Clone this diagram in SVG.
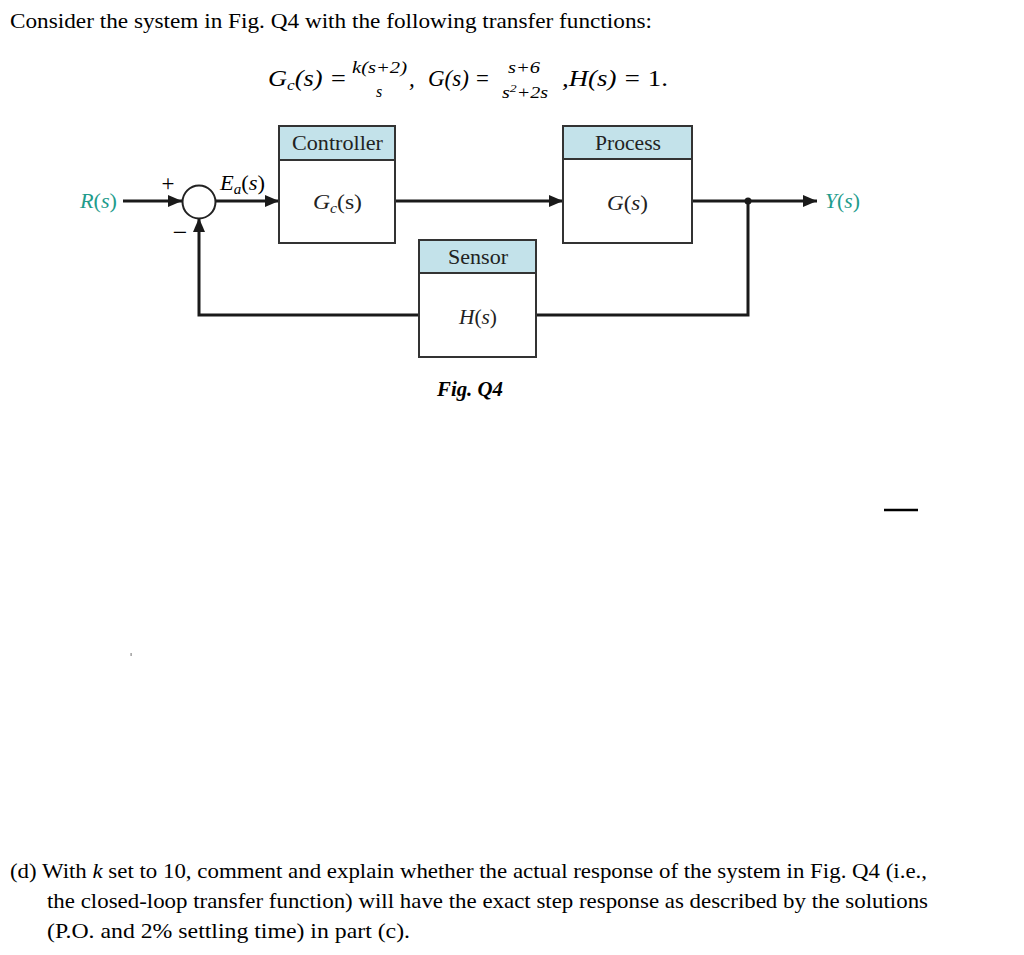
<svg xmlns="http://www.w3.org/2000/svg" width="1024" height="955" viewBox="0 0 1024 955">
<defs>
<style>
.t{font-family:"Liberation Serif","Times New Roman",serif;fill:#000}
.m{font-family:"Liberation Serif","Times New Roman",serif;font-style:italic;fill:#000}
.blk{font-family:"Liberation Serif","Times New Roman",serif;font-size:21px;fill:#222}
.box{fill:#fff;stroke:#333;stroke-width:2}
.hdr{fill:#c3e2ea;stroke:#333;stroke-width:2}
.ln{fill:none;stroke:#1a1a1a;stroke-width:3}
.teal{font-family:"Liberation Serif","Times New Roman",serif;font-size:21px;fill:#1f9c8c}
</style>
<marker id="ah" markerUnits="userSpaceOnUse" markerWidth="14" markerHeight="12" refX="14" refY="6" orient="auto">
<path d="M0,0 L14,6 L0,12 Z" fill="#1a1a1a"/>
</marker>
</defs>
<rect width="1024" height="955" fill="#fff"/>

<text class="t" x="10" y="28" font-size="22" textLength="642" lengthAdjust="spacingAndGlyphs">Consider the system in Fig. Q4 with the following transfer functions:</text>

<g id="equations">
<text class="m" x="268" y="86" font-size="23" textLength="79" lengthAdjust="spacingAndGlyphs">G<tspan font-size="15" dy="4">c</tspan><tspan dy="-4">(s) =</tspan></text>
<text class="m" x="352" y="73" font-size="16" textLength="55" lengthAdjust="spacingAndGlyphs">k(s+2)</text>
<text class="m" x="379" y="97" font-size="16" text-anchor="middle">s</text>
<text class="m" x="409" y="86" font-size="23">,</text>
<text class="m" x="428" y="86" font-size="23" textLength="62" lengthAdjust="spacingAndGlyphs">G(s) =</text>
<text class="m" x="508" y="73" font-size="16" textLength="32" lengthAdjust="spacingAndGlyphs">s+6</text>
<text class="m" x="502" y="98" font-size="16" textLength="46" lengthAdjust="spacingAndGlyphs">s<tspan font-size="11" dy="-6">2</tspan><tspan dy="6">+2s</tspan></text>
<text class="m" x="562" y="86" font-size="23" textLength="106" lengthAdjust="spacingAndGlyphs">,H(s) = <tspan font-style="normal">1.</tspan></text>
</g>

<g id="connectors">
<line class="ln" x1="123" y1="201" x2="182" y2="201" marker-end="url(#ah)"/>
<line class="ln" x1="216" y1="201" x2="279" y2="201" marker-end="url(#ah)"/>
<line class="ln" x1="395" y1="201" x2="563" y2="201" marker-end="url(#ah)"/>
<line class="ln" x1="692" y1="201" x2="817" y2="201" marker-end="url(#ah)"/>
<polyline class="ln" points="748,201 748,315 536,315"/>
<polyline class="ln" points="419,315 199,315 199,218" marker-end="url(#ah)"/>
<circle cx="748" cy="201" r="3.5" fill="#1a1a1a"/>
</g>

<g id="sum">
<circle cx="199" cy="202" r="16.5" fill="#fff" stroke="#222" stroke-width="2"/>
<text class="t" x="168" y="191" font-size="23" text-anchor="middle" fill="#222">+</text>
<text class="t" x="180" y="241" font-size="26" text-anchor="middle" fill="#222">−</text>
</g>

<g id="R">
<text class="teal" x="80" y="208" textLength="37" lengthAdjust="spacingAndGlyphs"><tspan font-style="italic">R</tspan>(<tspan font-style="italic">s</tspan>)</text>
</g>

<g id="Ea">
<text class="t" x="220" y="190" font-size="21" fill="#222" textLength="45" lengthAdjust="spacingAndGlyphs"><tspan font-style="italic">E</tspan><tspan font-style="italic" font-size="14" dy="4">a</tspan><tspan dy="-4">(</tspan><tspan font-style="italic">s</tspan>)</text>
</g>

<g id="controller">
<rect class="box" x="279" y="126" width="116" height="117"/>
<rect class="hdr" x="279" y="126" width="116" height="34"/>
<text class="blk" x="292" y="150" textLength="91" lengthAdjust="spacingAndGlyphs">Controller</text>
<text class="blk" x="313" y="209" textLength="49" lengthAdjust="spacingAndGlyphs"><tspan font-style="italic">G</tspan><tspan font-style="italic" font-size="14" dy="4">c</tspan><tspan dy="-4">(s)</tspan></text>
</g>

<g id="process">
<rect class="box" x="563" y="126" width="129" height="117"/>
<rect class="hdr" x="563" y="126" width="129" height="33"/>
<text class="blk" x="595" y="150" textLength="66" lengthAdjust="spacingAndGlyphs">Process</text>
<text class="blk" x="607" y="210" textLength="41" lengthAdjust="spacingAndGlyphs"><tspan font-style="italic">G</tspan>(<tspan font-style="italic">s</tspan>)</text>
</g>

<g id="sensor">
<rect class="box" x="419" y="240" width="117" height="117"/>
<rect class="hdr" x="419" y="240" width="117" height="33"/>
<text class="blk" x="448" y="264" textLength="60" lengthAdjust="spacingAndGlyphs">Sensor</text>
<text class="blk" x="459" y="324" textLength="38" lengthAdjust="spacingAndGlyphs"><tspan font-style="italic">H</tspan>(<tspan font-style="italic">s</tspan>)</text>
</g>

<g id="Y">
<text class="teal" x="825" y="208" textLength="35" lengthAdjust="spacingAndGlyphs"><tspan font-style="italic">Y</tspan>(<tspan font-style="italic">s</tspan>)</text>
</g>

<text class="t" x="437" y="396" font-size="21" font-weight="bold" font-style="italic" textLength="66" lengthAdjust="spacingAndGlyphs">Fig. Q4</text>

<line x1="884" y1="510" x2="918" y2="510" stroke="#000" stroke-width="2.5"/>
<rect x="130.5" y="653" width="1.2" height="3" fill="#888"/>

<text class="t" x="10" y="878" font-size="22" textLength="917" lengthAdjust="spacingAndGlyphs">(d) With <tspan font-style="italic">k</tspan> set to 10, comment and explain whether the actual response of the system in Fig. Q4 (i.e.,</text>
<text class="t" x="47" y="908" font-size="22" textLength="881" lengthAdjust="spacingAndGlyphs">the closed-loop transfer function) will have the exact step response as described by the solutions</text>
<text class="t" x="47" y="938" font-size="22" textLength="363" lengthAdjust="spacingAndGlyphs">(P.O. and 2% settling time) in part (c).</text>
</svg>
